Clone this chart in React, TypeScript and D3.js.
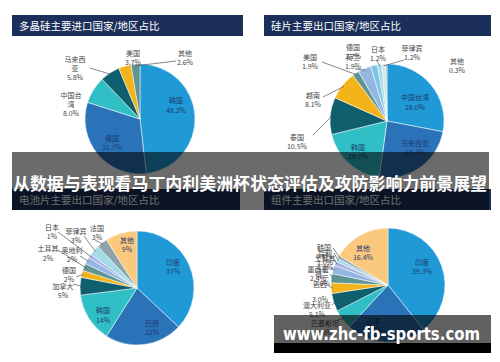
import React from 'react';
import * as d3 from 'd3';

// ---------- DATA ----------
const titles = ['多晶硅主要进口国家/地区占比', '硅片主要出口国家/地区占比', '电池片主要出口国家/地区占比', '组件主要出口国家/地区占比'];
const bannerText = '从数据与表现看马丁内利美洲杯状态评估及攻防影响力前景展望';
const watermarkText = 'www.zhc-fb-sports.com';

const p1Names = ['韩国', '德国', '中国台湾', '马来西亚', '美国', '其他'];
const p1Values = [48.2, 31.7, 8.0, 5.8, 3.7, 2.6];

const p2Names = ['中国台湾', '马来西亚', '韩国', '泰国', '越南', '美国', '德国', '荷兰', '日本', '菲律宾', '其他'];
const p2Values = [28.0, 24.2, 19.0, 10.5, 8.1, 1.9, 3.7, 1.9, 1.2, 1.2, 0.3];

const p3Names = ['印度', '巴西', '韩国', '加拿大', '德国', '土耳其', '奥地利', '日本', '菲律宾', '法国', '其他'];
const p3Values = [37, 22, 14, 5, 2, 2, 2, 1, 3, 3, 9];

const p4Names = ['印度', '日本', '巴基斯坦', '澳大利亚', '巴西', '荷兰', '墨西哥', '土耳其', '智利', '韩国', '其他'];
const p4Values = [39.3, 22.6, 5.6, 5.1, 3.0, 2.6, 2.4, 1.2, 1.0, 0.8, 16.4];

// ---------- STYLE ----------
const C = {
  blue: '#1f9ad6', mid: '#2b73b9', teal: '#2fbfc5', dark: '#0f5f6e', gold: '#f2b31b',
  grayTeal: '#5e9492', steel: '#93b7e2', cyan: '#a3dbe9', lav: '#a9aee3', gray: '#8ea3ab', peach: '#fbc97e',
};
const pal1 = [C.blue, C.mid, C.teal, C.dark, C.gold, C.grayTeal];
const pal2 = [C.blue, C.mid, C.teal, C.dark, C.gold, C.grayTeal, C.steel, '#7fc4e6', C.cyan, '#cfe6ea', C.gray];
const pal3 = [C.blue, C.mid, C.teal, C.dark, C.gold, C.grayTeal, C.steel, C.lav, C.cyan, C.gray, C.peach];
const pal4 = [C.blue, C.mid, C.teal, C.dark, C.gold, C.grayTeal, C.steel, C.lav, C.cyan, C.gray, C.peach];

type Lab = { i: number; x: number; ys: number[]; inside?: boolean; split?: number; line?: [number, number] };

const lay1: Lab[] = [
  { i: 0, x: 176, ys: [100, 110], inside: true },
  { i: 1, x: 112, ys: [138, 147], inside: true },
  { i: 2, x: 71, ys: [95, 104, 113], split: 3 },
  { i: 3, x: 75, ys: [59, 68, 77], split: 3, line: [90, 68] },
  { i: 4, x: 133, ys: [53, 62] },
  { i: 5, x: 185, ys: [53, 62], line: [176, 61] },
];
const lay2: Lab[] = [
  { i: 0, x: 415, ys: [97, 107], inside: true },
  { i: 1, x: 415, ys: [143, 152], inside: true },
  { i: 2, x: 358, ys: [147, 156], inside: true },
  { i: 3, x: 297, ys: [137, 146], line: [313, 135] },
  { i: 4, x: 313, ys: [95, 104], line: [323, 97] },
  { i: 5, x: 310, ys: [57, 66], line: [322, 62] },
  { i: 6, x: 353, ys: [47, 56], line: [355, 69] },
  { i: 7, x: 353, ys: [57, 66] },
  { i: 8, x: 378, ys: [49, 58], line: [377, 61] },
  { i: 9, x: 412, ys: [48, 57], line: [404, 60] },
  { i: 10, x: 457, ys: [61, 70] },
];
const lay3: Lab[] = [
  { i: 0, x: 173, ys: [262, 271], inside: true },
  { i: 1, x: 152, ys: [323, 332], inside: true },
  { i: 2, x: 103, ys: [310, 320], inside: true },
  { i: 3, x: 63, ys: [286, 295], line: [73, 284] },
  { i: 4, x: 69, ys: [270, 279], line: [76, 277] },
  { i: 5, x: 48, ys: [248, 258], line: [58, 250] },
  { i: 6, x: 72, ys: [250, 259], line: [80, 256] },
  { i: 7, x: 52, ys: [227, 236], line: [58, 232] },
  { i: 8, x: 76, ys: [231, 240], line: [84, 236] },
  { i: 9, x: 97, ys: [228, 237], line: [95, 240] },
  { i: 10, x: 127, ys: [240, 249], inside: true },
];
const lay4: Lab[] = [
  { i: 0, x: 422, ys: [262, 271], inside: true },
  { i: 1, x: 373, ys: [321, 330], inside: true },
  { i: 2, x: 325, ys: [323, 332], line: [338, 320] },
  { i: 3, x: 317, ys: [305, 314], line: [332, 305] },
  { i: 4, x: 320, ys: [284, 299], line: [329, 286] },
  { i: 5, x: 322, ys: [274, 283], line: [330, 274] },
  { i: 6, x: 318, ys: [269, 278], line: [331, 268] },
  { i: 7, x: 325, ys: [258, 267], line: [334, 259] },
  { i: 8, x: 325, ys: [253, 262], line: [334, 253] },
  { i: 9, x: 324, ys: [247, 256], line: [333, 248] },
  { i: 10, x: 363, ys: [248, 257], inside: true },
];

const CJK = '"Noto Sans CJK SC", "Noto Sans", sans-serif';

function Pie(props: { cx: number; cy: number; r: number; names: string[]; values: number[]; colors: string[]; lay: Lab[]; dec: number }) {
  const { cx, cy, r, names, values, colors, lay, dec } = props;
  const arcs = d3.pie<number>().sort(null).value((d) => d)(values);
  const arc = d3.arc<d3.PieArcDatum<number>>().innerRadius(0).outerRadius(r);
  return (
    <g>
      <g transform={`translate(${cx},${cy})`}>
        {arcs.map((a, k) => (
          <path key={k} d={arc(a) || ''} fill={colors[k]} stroke="#ffffff" strokeWidth={0.5} />
        ))}
      </g>
      {lay.map((l, k) => {
        const a = arcs[l.i];
        const ang = (a.startAngle + a.endAngle) / 2;
        const ex = cx + r * 0.97 * Math.sin(ang);
        const ey = cy - r * 0.97 * Math.cos(ang);
        const name = names[l.i];
        const nameLines = l.split ? [name.slice(0, l.split), name.slice(l.split)] : [name];
        const lines = [...nameLines, values[l.i].toFixed(dec) + '%'];
        return (
          <g key={k}>
            {l.line && <line x1={l.line[0]} y1={l.line[1]} x2={ex} y2={ey} stroke="#555" strokeWidth={0.7} />}
            {lines.map((t, j) => (
              <text key={j} x={l.x} y={l.ys[j] + 2.5} textAnchor="middle" fontSize={7} fontFamily={CJK}
                fill={l.inside ? '#1e3a6e' : '#444'}>{t}</text>
            ))}
          </g>
        );
      })}
    </g>
  );
}

function TitleBar(props: { x: number; y: number; w: number; h: number; text: string }) {
  const { x, y, w, h, text } = props;
  return (
    <g>
      <rect x={x} y={y} width={w} height={h} fill="#1b2f5a" />
      <text x={x + 7} y={y + h / 2 + 4} fontSize={10.5} fontFamily={CJK} fill="#ffffff">{text}</text>
    </g>
  );
}

export default function App() {
  return (
    <svg width={500} height={362} style={{ position: 'absolute', left: 0, top: 0, background: '#fff' }}>
      <rect x={0} y={0} width={500} height={362} fill="#ffffff" />
      <TitleBar x={12} y={15} w={231} h={21} text={titles[0]} />
      <TitleBar x={264} y={15} w={227} h={21} text={titles[1]} />
      <Pie cx={140} cy={119} r={55} names={p1Names} values={p1Values} colors={pal1} lay={lay1} dec={1} />
      <Pie cx={387} cy={121} r={57} names={p2Names} values={p2Values} colors={pal2} lay={lay2} dec={1} />
      <TitleBar x={12} y={189} w={228} h={21} text={titles[2]} />
      <TitleBar x={264} y={189} w={227} h={21} text={titles[3]} />
      <Pie cx={137} cy={288} r={57} names={p3Names} values={p3Values} colors={pal3} lay={lay3} dec={0} />
      <Pie cx={388} cy={285} r={57} names={p4Names} values={p4Values} colors={pal4} lay={lay4} dec={1} />
      {/* banner overlay */}
      <rect x={12} y={152} width={477} height={58} fill="#000" fillOpacity={0.58} />
      <text x={13} y={190} fontSize={17} fontWeight={700} fontFamily={CJK} fill="#ffffff" textLength={474} lengthAdjust="spacingAndGlyphs">{bannerText}</text>
      {/* watermark */}
      <rect x={274} y={315} width={217} height={28} fill="#000" fillOpacity={0.62} />
      <rect x={274} y={343} width={217} height={10} fill="#000" />
      <text x={283} y={340} fontSize={17} fontWeight={700} fontFamily={'"DejaVu Sans", sans-serif'} fill="#ffffff" textLength={197} lengthAdjust="spacingAndGlyphs">{watermarkText}</text>
    </svg>
  );
}
